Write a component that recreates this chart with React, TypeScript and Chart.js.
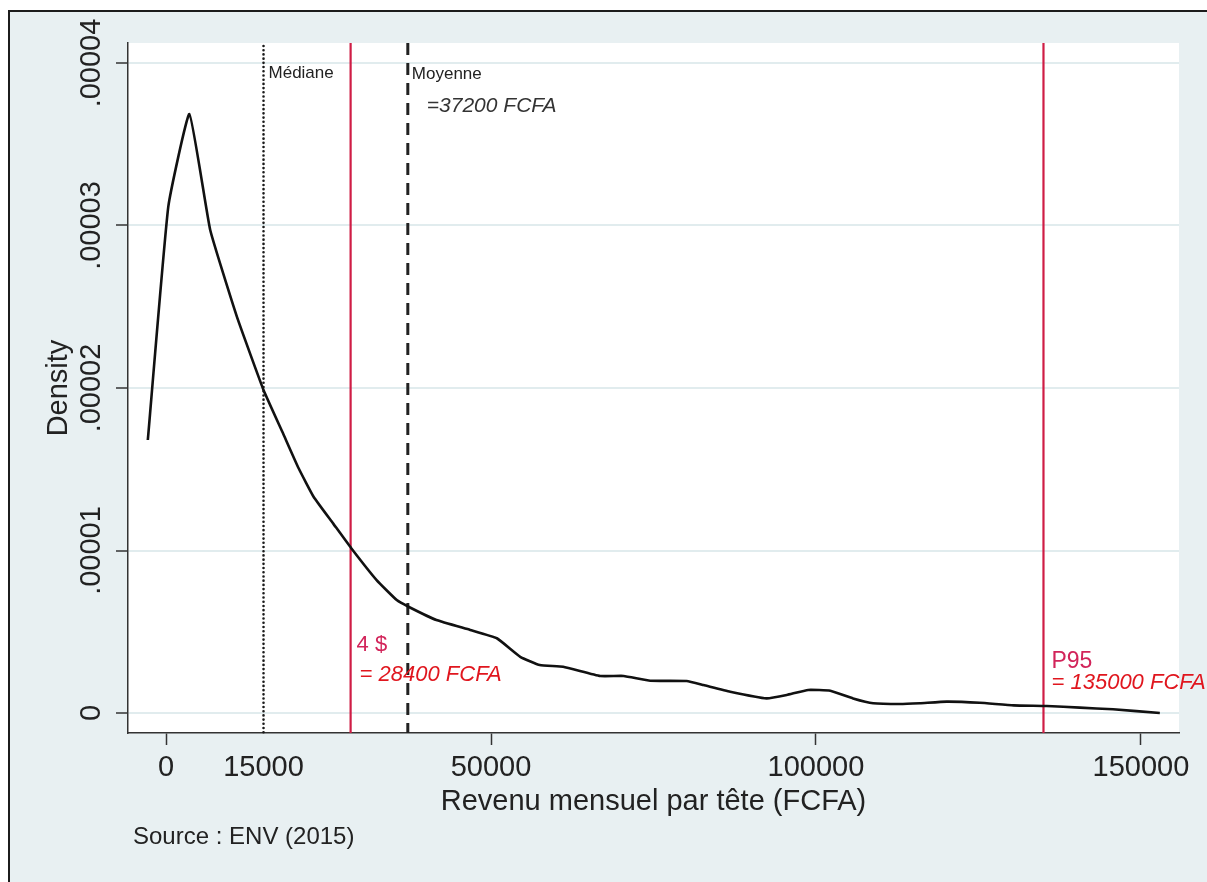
import React, { useEffect, useRef } from "react";
import { Chart, registerables } from "chart.js";

Chart.register(...registerables);

// Kernel density of monthly income per head (FCFA)
const incomeX = [
  -2800, 350, 3600, 6800, 10900, 15000, 18000, 20400, 22700, 25700, 28500, 32400,
  35500, 37300, 41600, 46800, 50900, 54500, 57500, 61100, 66800, 70400, 74500,
  80100, 82700, 86800, 92400, 95500, 98800, 102200, 105700, 108800, 112900, 116000,
  120100, 125200, 130400, 135500, 140600, 145700, 152900,
];
const densityY = [
  1.68e-5, 3.116e-5, 3.686e-5, 2.972e-5, 2.439e-5, 1.988e-5, 1.721e-5, 1.506e-5,
  1.331e-5, 1.167e-5, 1.014e-5, 0.818e-5, 0.695e-5, 0.654e-5, 0.572e-5, 0.511e-5,
  0.46e-5, 0.346e-5, 0.295e-5, 0.285e-5, 0.228e-5, 0.228e-5, 0.199e-5, 0.197e-5,
  0.172e-5, 0.131e-5, 0.09e-5, 0.111e-5, 0.142e-5, 0.137e-5, 0.09e-5, 0.06e-5,
  0.055e-5, 0.06e-5, 0.07e-5, 0.063e-5, 0.047e-5, 0.043e-5, 0.033e-5, 0.023e-5, 0.0,
];

const xTickValues = [0, 15000, 50000, 100000, 150000];
const xTickLabels = ["0", "15000", "50000", "100000", "150000"];
const yTickValues = [0, 1e-5, 2e-5, 3e-5, 4e-5];
const yTickLabels = ["0", ".00001", ".00002", ".00003", ".00004"];

const medianValue = 15000;
const povertyValue = 28400;
const meanValue = 37200;
const p95Value = 135000;

const xTitle = "Revenu mensuel par tête (FCFA)";
const yTitle = "Density";
const sourceText = "Source : ENV (2015)";

const FONT = "'Liberation Sans', Arial, sans-serif";
const RED_LINE = "#cf1d45";
const PINK_TEXT = "#d2245a";
const RED_TEXT = "#e0161e";

const decorPlugin = {
  id: "decor",
  beforeDraw(chart: any) {
    const { ctx, width, height, chartArea } = chart;
    ctx.save();
    ctx.fillStyle = "#ffffff";
    ctx.fillRect(0, 0, width, height);
    ctx.fillStyle = "#e8f0f2";
    ctx.fillRect(10, 12, width, height);
    ctx.strokeStyle = "#1c1c1c";
    ctx.lineWidth = 2;
    ctx.beginPath();
    ctx.moveTo(9, height);
    ctx.lineTo(9, 11);
    ctx.lineTo(width, 11);
    ctx.stroke();
    ctx.fillStyle = "#ffffff";
    ctx.fillRect(
      chartArea.left,
      chartArea.top,
      chartArea.right - chartArea.left,
      chartArea.bottom - chartArea.top
    );
    ctx.restore();
  },
  beforeDatasetsDraw(chart: any) {
    const { ctx, chartArea, scales } = chart;
    const xs = scales.x;
    const top = chartArea.top;
    const bottom = chartArea.bottom;
    const vline = (v: number, color: string, w: number, dash: number[], cap: string) => {
      const px = xs.getPixelForValue(v);
      ctx.save();
      ctx.strokeStyle = color;
      ctx.lineWidth = w;
      ctx.lineCap = cap;
      ctx.setLineDash(dash);
      ctx.beginPath();
      ctx.moveTo(px, top + (cap === "round" ? 3 : 0));
      ctx.lineTo(px, bottom);
      ctx.stroke();
      ctx.restore();
    };
    vline(medianValue, "#1a1a1a", 2.6, [0.01, 4.2], "round");
    vline(povertyValue, RED_LINE, 2.2, [], "butt");
    vline(meanValue, "#222", 3, [12, 8], "butt");
    vline(p95Value, RED_LINE, 2.2, [], "butt");
  },
  afterDatasetsDraw(chart: any) {
    const { ctx, chartArea, scales } = chart;
    const xs = scales.x;
    const top = chartArea.top;
    const bottom = chartArea.bottom;
    const text = (s: string, x: number, y: number, font: string, color: string) => {
      ctx.save();
      ctx.font = font;
      ctx.fillStyle = color;
      ctx.textAlign = "left";
      ctx.textBaseline = "middle";
      ctx.fillText(s, x, y);
      ctx.restore();
    };
    text("Médiane", xs.getPixelForValue(medianValue) + 5, top + 30, `17px ${FONT}`, "#222");
    text("Moyenne", xs.getPixelForValue(meanValue) + 4, top + 31, `17px ${FONT}`, "#222");
    text("=37200 FCFA", xs.getPixelForValue(meanValue) + 19, top + 63, `italic 21px ${FONT}`, "#333");
    text("4 $", xs.getPixelForValue(povertyValue) + 6, bottom - 88, `22px ${FONT}`, PINK_TEXT);
    text("= 28400 FCFA", xs.getPixelForValue(povertyValue) + 9, bottom - 58, `italic 22px ${FONT}`, RED_TEXT);
    text("P95", xs.getPixelForValue(p95Value) + 8, bottom - 71, `23px ${FONT}`, PINK_TEXT);
    text("= 135000 FCFA", xs.getPixelForValue(p95Value) + 8, bottom - 50, `italic 22px ${FONT}`, RED_TEXT);
    text(sourceText, chartArea.left + 5, bottom + 104, `24px ${FONT}`, "#222");
  },
};

export default function App() {
  const canvasRef = useRef<HTMLCanvasElement | null>(null);

  useEffect(() => {
    const canvas = canvasRef.current;
    if (!canvas) return;
    const points = incomeX.map((x, i) => ({ x, y: densityY[i] }));
    const chart = new Chart(canvas, {
      type: "line",
      data: {
        datasets: [
          {
            data: points,
            borderColor: "#111111",
            borderWidth: 2.6,
            pointRadius: 0,
            fill: false,
            tension: 0.12,
          },
        ],
      },
      options: {
        animation: false,
        responsive: false,
        devicePixelRatio: 1,
        layout: { padding: { left: 0, top: 43, right: 28, bottom: 59 } },
        plugins: {
          legend: { display: false },
          tooltip: { enabled: false },
        },
        scales: {
          x: {
            type: "linear",
            min: -5850,
            max: 155850,
            afterBuildTicks: (scale: any) => {
              scale.ticks = xTickValues.map((v) => ({ value: v }));
            },
            afterFit: (scale: any) => {
              scale.height = 90;
            },
            ticks: {
              autoSkip: false,
              maxRotation: 0,
              minRotation: 0,
              padding: 6,
              color: "#222",
              font: { family: FONT, size: 29 },
              callback: (_v: any, i: number) => xTickLabels[i],
            },
            grid: {
              drawOnChartArea: false,
              drawTicks: true,
              tickLength: 12,
              tickWidth: 1.5,
              tickColor: (ctx: any) =>
                ctx.tick && ctx.tick.value === medianValue ? "rgba(0,0,0,0)" : "#333",
            },
            border: { display: true, color: "#333", width: 1.5 },
            title: {
              display: true,
              text: xTitle,
              color: "#222",
              font: { family: FONT, size: 29 },
              padding: { top: 0, bottom: 4 },
            },
          },
          y: {
            type: "linear",
            min: -1.23e-6,
            max: 4.123e-5,
            afterBuildTicks: (scale: any) => {
              scale.ticks = yTickValues.map((v) => ({ value: v }));
            },
            afterFit: (scale: any) => {
              scale.width = 128;
            },
            ticks: {
              autoSkip: false,
              minRotation: 90,
              maxRotation: 90,
              crossAlign: "center",
              padding: -20,
              color: "#222",
              font: { family: FONT, size: 29 },
              callback: (_v: any, i: number) => yTickLabels[i],
            },
            grid: {
              drawOnChartArea: true,
              color: "#e1ecee",
              lineWidth: 2,
              drawTicks: true,
              tickLength: 12,
              tickWidth: 1.5,
              tickColor: "#333",
            },
            border: { display: true, color: "#333", width: 1.5 },
            title: {
              display: true,
              text: yTitle,
              color: "#222",
              font: { family: FONT, size: 29 },
              padding: { top: 42, bottom: 0 },
            },
          },
        },
      },
      plugins: [decorPlugin],
    } as any);
    return () => chart.destroy();
  }, []);

  return (
    <div style={{ position: "absolute", left: 0, top: 0, width: 1207, height: 882, overflow: "hidden" }}>
      <canvas ref={canvasRef} width={1207} height={882} style={{ display: "block" }} />
    </div>
  );
}
